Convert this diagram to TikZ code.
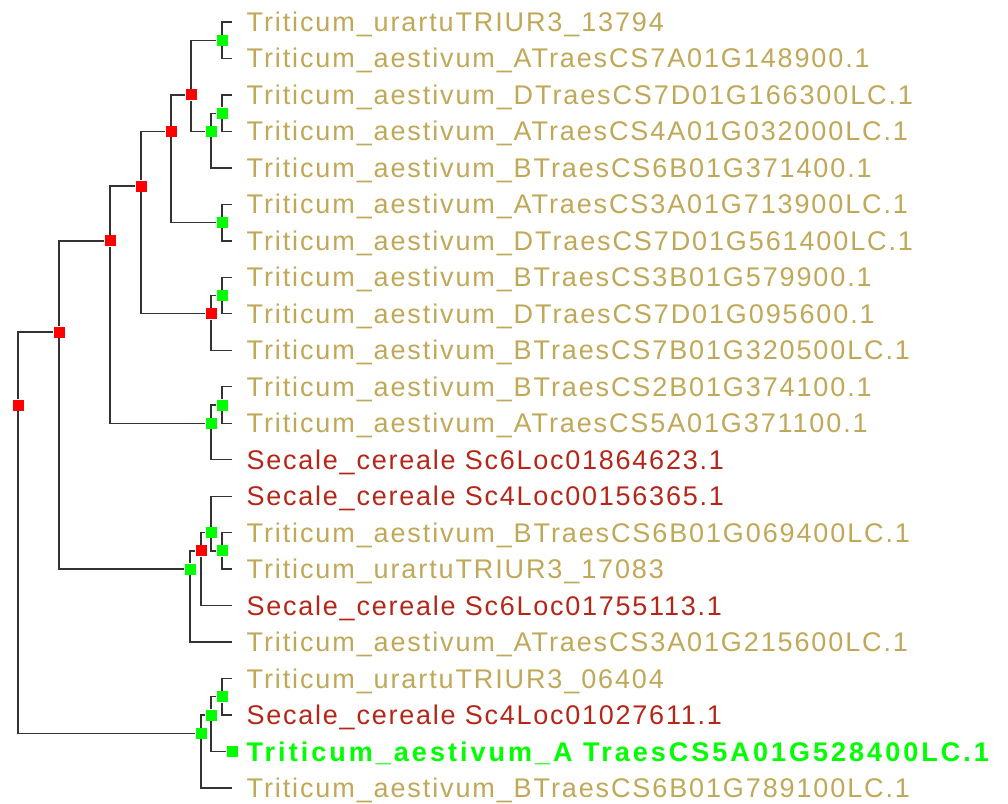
\documentclass[tikz,border=0pt]{standalone}
\usepackage{fontspec}
\setmainfont{Liberation Sans}
\newfontfamily\hojafont[LetterSpace=7]{Liberation Sans}
\newfontfamily\centenofont[LetterSpace=6.5]{Liberation Sans}
\newfontfamily\consultafont[LetterSpace=11.2]{Liberation Sans Bold}
\usetikzlibrary{calc, positioning}
\definecolor{Trigocolor}{RGB}{192,168,88}
\definecolor{Centenocolor}{RGB}{181,38,24}
\definecolor{Consultacolor}{RGB}{0,255,0}

\begin{document}
\begin{tikzpicture}[
  x=1pt, y=-1pt,
  every node/.style={font=\hojafont\fontsize{27}{30}\selectfont},
  rama/.style={draw=black!80, line width=1.3pt},
  nodoR/.style={rectangle, fill=red, minimum size=11pt, inner sep=0pt},
  nodoV/.style={rectangle, fill=Consultacolor, minimum size=11pt, inner sep=0pt},
  etiq/.style={anchor=base west, inner sep=0pt},
  trigo/.style={etiq, text=Trigocolor},
  centeno/.style={etiq, text=Centenocolor, font=\centenofont\fontsize{27}{30}\selectfont},
  consulta/.style={etiq, text=Consultacolor, font=\consultafont\fontsize{27}{30}\selectfont}
]
  \useasboundingbox (0,0) rectangle (1008,803);

  % --- Hojas ---
  \coordinate (L1)  at (232, 22);
  \coordinate (L2)  at (232, 58.48);
  \coordinate (L3)  at (232, 94.95);
  \coordinate (L4)  at (232, 131.43);
  \coordinate (L5)  at (232, 167.9);
  \coordinate (L6)  at (232, 204.38);
  \coordinate (L7)  at (232, 240.86);
  \coordinate (L8)  at (232, 277.33);
  \coordinate (L9)  at (232, 313.81);
  \coordinate (L10) at (232, 350.29);
  \coordinate (L11) at (232, 386.76);
  \coordinate (L12) at (232, 423.24);
  \coordinate (L13) at (232, 459.71);
  \coordinate (L14) at (232, 496.19);
  \coordinate (L15) at (232, 532.67);
  \coordinate (L16) at (232, 569.14);
  \coordinate (L17) at (232, 605.62);
  \coordinate (L18) at (232, 642.1);
  \coordinate (L19) at (232, 678.57);
  \coordinate (L20) at (232, 715.05);
  \coordinate (L21) at (232, 751.52);
  \coordinate (L22) at (232, 788);

  % --- Nodos internos ---
  \node[nodoR] (raiz) at (18, 405)    {};
  \node[nodoR] (nE)   at (59, 332.05) {};
  \node[nodoR] (nD)   at (110, 240.86) {};
  \node[nodoR] (nC)   at (141, 186.14) {};
  \node[nodoR] (nB)   at (171, 131.43) {};
  \node[nodoR] (nA)   at (191, 94.95) {};
  \node[nodoV] (n12)  at (222, 40.24) {};
  \node[nodoV] (n35)  at (211, 131.43) {};
  \node[nodoV] (n34)  at (222, 113.19) {};
  \node[nodoV] (n67)  at (222, 222.62) {};
  \node[nodoR] (n810) at (211, 313.81) {};
  \node[nodoV] (n89)  at (222, 295.57) {};
  \node[nodoV] (n1113) at (211, 423.24) {};
  \node[nodoV] (n1112) at (222, 405) {};
  \node[nodoV] (n1418) at (190, 569.14) {};
  \node[nodoR] (n1417) at (201, 550.9) {};
  \node[nodoV] (n1416) at (211, 532.67) {};
  \node[nodoV] (n1516) at (222, 550.9) {};
  \node[nodoV] (n1922) at (201, 733.3) {};
  \node[nodoV] (n1921) at (211, 715.05) {};
  \node[nodoV] (n1920) at (222, 696.8) {};
  \node[nodoV] (q21)   at (232, 751.52) {};

  % --- Ramas ---
  \draw[rama] (raiz) |- (nE);
  \draw[rama] (raiz) |- (n1922);
  \draw[rama] (nE) |- (nD);
  \draw[rama] (nE) |- (n1418);
  \draw[rama] (nD) |- (nC);
  \draw[rama] (nD) |- (n1113);
  \draw[rama] (nC) |- (nB);
  \draw[rama] (nC) |- (n810);
  \draw[rama] (nB) |- (nA);
  \draw[rama] (nB) |- (n67);
  \draw[rama] (nA) |- (n12);
  \draw[rama] (nA) |- (n35);
  \draw[rama] (n12) |- (L1);
  \draw[rama] (n12) |- (L2);
  \draw[rama] (n35) |- (n34);
  \draw[rama] (n35) |- (L5);
  \draw[rama] (n34) |- (L3);
  \draw[rama] (n34) |- (L4);
  \draw[rama] (n67) |- (L6);
  \draw[rama] (n67) |- (L7);
  \draw[rama] (n810) |- (n89);
  \draw[rama] (n810) |- (L10);
  \draw[rama] (n89) |- (L8);
  \draw[rama] (n89) |- (L9);
  \draw[rama] (n1113) |- (n1112);
  \draw[rama] (n1113) |- (L13);
  \draw[rama] (n1112) |- (L11);
  \draw[rama] (n1112) |- (L12);
  \draw[rama] (n1418) |- (n1417);
  \draw[rama] (n1418) |- (L18);
  \draw[rama] (n1417) |- (n1416);
  \draw[rama] (n1417) |- (L17);
  \draw[rama] (n1416) |- (L14);
  \draw[rama] (n1416) |- (n1516);
  \draw[rama] (n1516) |- (L15);
  \draw[rama] (n1516) |- (L16);
  \draw[rama] (n1922) |- (n1921);
  \draw[rama] (n1922) |- (L22);
  \draw[rama] (n1921) |- (n1920);
  \draw[rama] (n1921) |- (q21);
  \draw[rama] (n1920) |- (L19);
  \draw[rama] (n1920) |- (L20);

  % --- Etiquetas ---
  \node[trigo]   (t1)  at ([shift={(14.5pt,-9.5pt)}]L1)  {Triticum\_urartuTRIUR3\_13794};
  \node[trigo]   (t2)  at ([shift={(14.5pt,-9.5pt)}]L2)  {Triticum\_aestivum\_ATraesCS7A01G148900.1};
  \node[trigo]   (t3)  at ([shift={(14.5pt,-9.5pt)}]L3)  {Triticum\_aestivum\_DTraesCS7D01G166300LC.1};
  \node[trigo]   (t4)  at ([shift={(14.5pt,-9.5pt)}]L4)  {Triticum\_aestivum\_ATraesCS4A01G032000LC.1};
  \node[trigo]   (t5)  at ([shift={(14.5pt,-9.5pt)}]L5)  {Triticum\_aestivum\_BTraesCS6B01G371400.1};
  \node[trigo]   (t6)  at ([shift={(14.5pt,-9.5pt)}]L6)  {Triticum\_aestivum\_ATraesCS3A01G713900LC.1};
  \node[trigo]   (t7)  at ([shift={(14.5pt,-9.5pt)}]L7)  {Triticum\_aestivum\_DTraesCS7D01G561400LC.1};
  \node[trigo]   (t8)  at ([shift={(14.5pt,-9.5pt)}]L8)  {Triticum\_aestivum\_BTraesCS3B01G579900.1};
  \node[trigo]   (t9)  at ([shift={(14.5pt,-9.5pt)}]L9)  {Triticum\_aestivum\_DTraesCS7D01G095600.1};
  \node[trigo]   (t10) at ([shift={(14.5pt,-9.5pt)}]L10) {Triticum\_aestivum\_BTraesCS7B01G320500LC.1};
  \node[trigo]   (t11) at ([shift={(14.5pt,-9.5pt)}]L11) {Triticum\_aestivum\_BTraesCS2B01G374100.1};
  \node[trigo]   (t12) at ([shift={(14.5pt,-9.5pt)}]L12) {Triticum\_aestivum\_ATraesCS5A01G371100.1};
  \node[centeno] (t13) at ([shift={(14.5pt,-9.5pt)}]L13) {Secale\_cereale Sc6Loc01864623.1};
  \node[centeno] (t14) at ([shift={(14.5pt,-9.5pt)}]L14) {Secale\_cereale Sc4Loc00156365.1};
  \node[trigo]   (t15) at ([shift={(14.5pt,-9.5pt)}]L15) {Triticum\_aestivum\_BTraesCS6B01G069400LC.1};
  \node[trigo]   (t16) at ([shift={(14.5pt,-9.5pt)}]L16) {Triticum\_urartuTRIUR3\_17083};
  \node[centeno] (t17) at ([shift={(14.5pt,-9.5pt)}]L17) {Secale\_cereale Sc6Loc01755113.1};
  \node[trigo]   (t18) at ([shift={(14.5pt,-9.5pt)}]L18) {Triticum\_aestivum\_ATraesCS3A01G215600LC.1};
  \node[trigo]   (t19) at ([shift={(14.5pt,-9.5pt)}]L19) {Triticum\_urartuTRIUR3\_06404};
  \node[centeno] (t20) at ([shift={(14.5pt,-9.5pt)}]L20) {Secale\_cereale Sc4Loc01027611.1};
  \node[consulta] (t21) at ([shift={(14.5pt,-9.5pt)}]L21) {Triticum\_aestivum\_A TraesCS5A01G528400LC.1};
  \node[trigo]   (t22) at ([shift={(14.5pt,-9.5pt)}]L22) {Triticum\_aestivum\_BTraesCS6B01G789100LC.1};
\end{tikzpicture}
\end{document}
